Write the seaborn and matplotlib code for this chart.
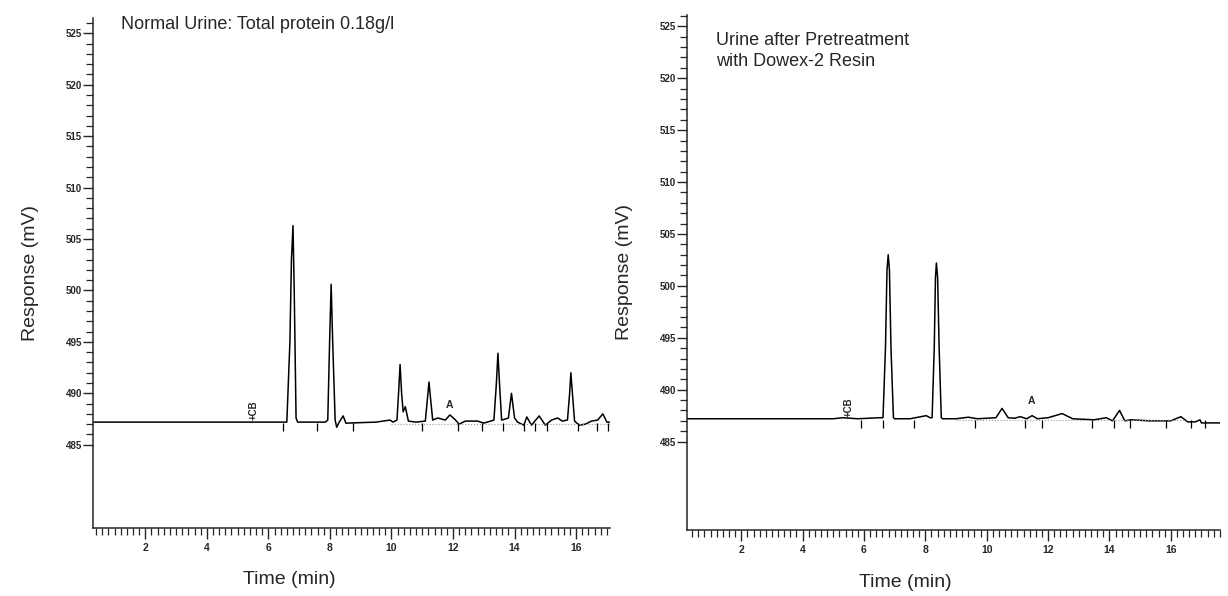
import matplotlib
matplotlib.use('Agg')
import matplotlib.pyplot as plt
import seaborn as sns
from matplotlib.ticker import MultipleLocator

# Normal urine trace (time in min, response in mV)
normal_time = [0.3, 6.60, 6.70, 6.75, 6.80, 6.84, 6.90, 6.95,
               7.85, 7.93, 7.99, 8.04, 8.09, 8.17, 8.22, 8.30, 8.43, 8.52,
               9.50, 9.95, 10.05, 10.18, 10.24, 10.28, 10.33, 10.38, 10.45, 10.55,
               10.80, 11.10, 11.17, 11.22, 11.27, 11.34, 11.50, 11.75, 11.90, 12.05,
               12.20, 12.40, 12.80, 13.00, 13.33, 13.41, 13.46, 13.51, 13.58, 13.70,
               13.80, 13.90, 14.00, 14.10, 14.30, 14.40, 14.55, 14.80, 15.00, 15.20,
               15.40, 15.55, 15.72, 15.79, 15.83, 15.88, 15.95, 16.10, 16.30, 16.50,
               16.70, 16.87, 17.00, 17.10]
normal_resp = [487.2, 487.2, 495.0, 503.0, 506.3, 500.0, 487.6, 487.2,
               487.2, 487.4, 495.0, 500.6, 495.0, 487.4, 486.7, 487.2, 487.8, 487.1,
               487.2, 487.4, 487.2, 487.4, 490.5, 492.8, 490.0, 488.2, 488.7, 487.3,
               487.2, 487.3, 489.5, 491.1, 489.5, 487.4, 487.6, 487.4, 487.9, 487.5,
               487.0, 487.3, 487.3, 487.1, 487.4, 491.0, 493.9, 491.0, 487.4, 487.5,
               487.6, 490.0, 487.6, 487.2, 486.9, 487.7, 486.9, 487.8, 486.9, 487.4,
               487.6, 487.3, 487.4, 490.0, 492.0, 490.0, 487.3, 486.9, 487.0, 487.3,
               487.4, 488.0, 487.2, 487.2]
normal_events = [6.48, 7.58, 8.75, 11.0, 12.16, 12.93, 13.62, 14.3, 14.66,
                 15.04, 16.05, 16.67, 17.05]

# Urine after Dowex-2 pretreatment
treated_time = [0.23, 5.00, 5.30, 5.80, 6.50, 6.62, 6.70, 6.75, 6.79, 6.83, 6.88, 6.96,
                7.00, 7.50, 8.03, 8.15, 8.22, 8.29, 8.33, 8.36, 8.40, 8.45, 8.52,
                8.56, 9.00, 9.40, 9.70, 10.30, 10.50, 10.70, 10.90, 11.10, 11.30,
                11.48, 11.65, 12.00, 12.46, 12.80, 13.50, 13.90, 14.10, 14.33, 14.50,
                14.70, 15.30, 16.00, 16.33, 16.55, 16.80, 16.95, 17.00, 17.60]
treated_resp = [487.2, 487.2, 487.3, 487.2, 487.3, 487.3, 494.0, 501.5, 503.0, 501.5, 494.0, 487.3,
                487.2, 487.2, 487.5, 487.3, 487.3, 494.0, 500.8, 502.2, 500.8, 494.0, 487.3,
                487.2, 487.2, 487.35, 487.2, 487.3, 488.2, 487.3, 487.25, 487.4, 487.2,
                487.5, 487.2, 487.3, 487.7, 487.2, 487.1, 487.3, 487.0, 488.0, 487.0,
                487.1, 487.0, 487.0, 487.4, 486.9, 486.9, 487.1, 486.8, 486.8]
treated_events = [5.9, 6.61, 7.64, 9.61, 11.25, 11.8, 13.44, 14.16, 14.66, 15.84,
                  16.66, 17.1]

y_ticks = [485, 490, 495, 500, 505, 510, 515, 520, 525]
x_ticks = [2, 4, 6, 8, 10, 12, 14, 16]

panels = [
    dict(t=normal_time, r=normal_resp, ev=normal_events, xlim=(0.3, 17.1),
         pos=[0.0757, 0.114, 0.421, 0.856], ylim=(476.9, 526.5),
         title='Normal Urine: Total protein 0.18g/l', title_y=1.003, cb=5.53, a=11.9,
         dotted=(10.0, 17.1), xlab=0.38, ylab=-0.105),
    dict(t=treated_time, r=treated_resp, ev=treated_events, xlim=(0.23, 17.6),
         pos=[0.5594, 0.111, 0.434, 0.864], ylim=(476.5, 526.1),
         title='Urine after Pretreatment\nwith Dowex-2 Resin', title_y=0.966, cb=5.5, a=11.46,
         dotted=(9.0, 16.5), xlab=0.41, ylab=-0.102),
]

sns.set_style('ticks')
plt.rcParams['font.family'] = ['Liberation Sans', 'DejaVu Sans']

fig = plt.figure(figsize=(12.28, 5.96), dpi=100)
for p in panels:
    ax = fig.add_axes(p['pos'])
    sns.lineplot(x=p['t'], y=p['r'], ax=ax, color='black', lw=1.1, estimator=None, sort=False)
    # integration baseline
    ax.plot(p['dotted'], [487.05, 487.05], color='0.6', lw=0.8, ls=':')
    # integrator event marks
    ax.vlines(p['ev'], 486.3, 487.1, color='black', lw=0.9)
    ax.text(p['cb'], 487.4, '+CB', rotation=90, fontsize=7, fontweight='bold',
            ha='center', va='bottom')
    ax.text(p['a'], 488.4, 'A', fontsize=7.5, fontweight='bold', ha='center', va='bottom')
    ax.text(0.055, p['title_y'], p['title'], transform=ax.transAxes, fontsize=13,
            va='top', ha='left', linespacing=1.3)

    ax.set_xlim(*p['xlim'])
    ax.set_ylim(*p['ylim'])
    ax.set_xticks(x_ticks)
    ax.set_xticklabels([str(v) for v in x_ticks], fontsize=7.5, fontweight='bold')
    ax.xaxis.set_minor_locator(MultipleLocator(0.2))
    ax.set_yticks(y_ticks)
    ax.set_yticklabels([str(v) for v in y_ticks], fontsize=7, fontweight='bold')
    ax.set_yticks([v for v in range(485, 527) if v % 5], minor=True)
    ax.tick_params(axis='x', which='major', length=8, width=1.0, pad=3)
    ax.tick_params(axis='x', which='minor', length=5, width=0.9)
    ax.tick_params(axis='y', which='major', length=7, width=1.0, pad=1)
    ax.tick_params(axis='y', which='minor', length=5, width=0.9)
    sns.despine(ax=ax)
    for s in ('left', 'bottom'):
        ax.spines[s].set_linewidth(1.1)
    ax.set_xlabel('Time (min)', fontsize=14)
    ax.set_ylabel('Response (mV)', fontsize=14)
    ax.xaxis.set_label_coords(p['xlab'], -0.085)
    ax.yaxis.set_label_coords(p['ylab'], 0.5)

fig.savefig('out.png', dpi=100)
